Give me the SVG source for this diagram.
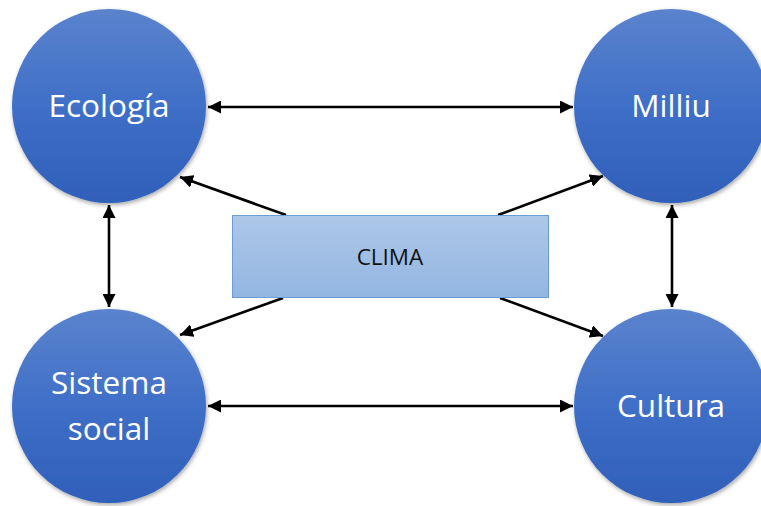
<svg xmlns="http://www.w3.org/2000/svg" width="761" height="506" viewBox="0 0 761 506">
<style>
.lbl{font-family:"Open Sans","Liberation Sans",sans-serif;font-size:31.5px;fill:#fff;text-anchor:middle}
.clima{font-family:"Open Sans","Liberation Sans",sans-serif;font-size:22.5px;fill:#111;text-anchor:middle}
.con{stroke:#000;stroke-width:2.6;fill:none;marker-end:url(#ah)}
.bi{marker-start:url(#ahs)}
.node{fill:url(#cg);filter:url(#sh)}
</style>
<defs>
<linearGradient id="cg" x1="0" y1="0" x2="0" y2="1">
<stop offset="0" stop-color="#5b83cd"/>
<stop offset="0.5" stop-color="#3f6fc7"/>
<stop offset="1" stop-color="#2f5fb9"/>
</linearGradient>
<linearGradient id="rg" x1="0" y1="0" x2="0" y2="1">
<stop offset="0" stop-color="#adc7e8"/>
<stop offset="1" stop-color="#93b6e2"/>
</linearGradient>
<filter id="sh" x="-20%" y="-20%" width="140%" height="140%">
<feDropShadow dx="1" dy="2" stdDeviation="2" flood-color="#000" flood-opacity="0.35"/>
</filter>
<marker id="ah" viewBox="0 0 10 10" refX="10" refY="5" markerWidth="5" markerHeight="5" orient="auto" markerUnits="strokeWidth">
<path d="M0,0 L10,5 L0,10 z" fill="#000"/>
</marker>
<marker id="ahs" viewBox="0 0 10 10" refX="0" refY="5" markerWidth="5" markerHeight="5" orient="auto" markerUnits="strokeWidth">
<path d="M10,0 L0,5 L10,10 z" fill="#000"/>
</marker>
</defs>
<g id="connectors">
<line class="con bi" x1="208" y1="107" x2="573" y2="107"/>
<line class="con bi" x1="208" y1="406" x2="573" y2="406"/>
<line class="con bi" x1="109" y1="205" x2="109" y2="307"/>
<line class="con bi" x1="672" y1="205" x2="672" y2="307"/>
<line class="con" x1="286" y1="215" x2="180" y2="177"/>
<line class="con" x1="498" y1="215" x2="603" y2="176"/>
<line class="con" x1="283" y1="298" x2="180" y2="335"/>
<line class="con" x1="500" y1="298" x2="603" y2="336"/>
</g>
<g id="clima">
<rect x="232.5" y="215.5" width="316" height="82" fill="url(#rg)" stroke="#6d9bd5" stroke-width="1"/>
<text class="clima" x="390" y="265">CLIMA</text>
</g>
<g id="ecologia">
<circle class="node" cx="109" cy="106" r="97"/>
<text class="lbl" x="109" y="117">Ecología</text>
</g>
<g id="milliu">
<circle class="node" cx="671" cy="106" r="97"/>
<text class="lbl" x="671" y="117">Milliu</text>
</g>
<g id="sistema-social">
<circle class="node" cx="109" cy="406" r="97"/>
<text class="lbl" x="109" y="394">Sistema</text>
<text class="lbl" x="109" y="440">social</text>
</g>
<g id="cultura">
<circle class="node" cx="671" cy="406" r="97"/>
<text class="lbl" x="671" y="417">Cultura</text>
</g>
</svg>
